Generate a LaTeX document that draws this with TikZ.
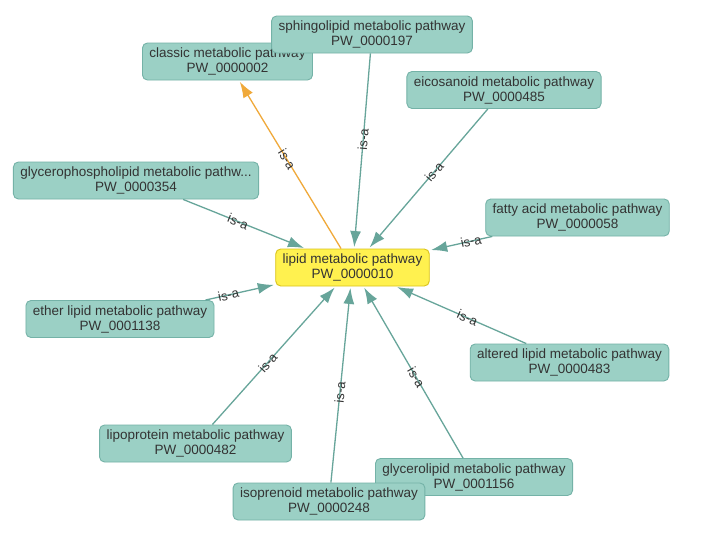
\documentclass[tikz,border=0pt]{standalone}
\usepackage{fontspec}
\setmainfont{Liberation Sans}
\usetikzlibrary{arrows.meta}
\definecolor{boxfill}{HTML}{9BD0C5}
\definecolor{boxline}{HTML}{74B2A7}
\definecolor{edgecol}{HTML}{67A59A}
\definecolor{yelfill}{HTML}{FFF14F}
\definecolor{yelline}{HTML}{D9C21A}
\definecolor{orangecol}{HTML}{F0A93A}
\definecolor{txt}{HTML}{333333}
\tikzset{
  pw/.style={draw=boxline, fill=boxfill, line width=0.9pt, rounded corners=5pt,
    align=center, text=txt, font=\fontsize{13.5}{15}\selectfont,
    minimum height=37pt, inner xsep=7pt, inner ysep=2pt},
  center/.style={pw, draw=yelline, fill=yelfill},
  isa/.style={draw=edgecol, line width=1.3pt, -{Latex[length=16pt,width=11pt]}, shorten >=1.5pt},
  isaor/.style={draw=orangecol, line width=1.3pt, -{Latex[length=16pt,width=11pt]}, shorten >=1.5pt},
  lab/.style={sloped, text=txt, font=\fontsize{13}{13}\selectfont, inner sep=1pt}
}
\begin{document}
\begin{tikzpicture}[x=1pt,y=-1pt]
\useasboundingbox (0,0) rectangle (705,541);
\fill[white] (0,0) rectangle (705,541);
% nodes
\node[pw] (classic) at (227.5,61.5) {classic metabolic pathway\\PW\_0000002};
\node[pw] (sphingo) at (372,34.5) {sphingolipid metabolic pathway\\PW\_0000197};
\node[pw] (eico) at (504,90) {eicosanoid metabolic pathway\\PW\_0000485};
\node[pw] (glyph) at (136,180.5) {glycerophospholipid metabolic pathw...\\PW\_0000354};
\node[pw] (fatty) at (577.5,217.5) {fatty acid metabolic pathway\\PW\_0000058};
\node[center] (lipid) at (352.5,267.5) {lipid metabolic pathway\\PW\_0000010};
\node[pw] (ether) at (120,319) {ether lipid metabolic pathway\\PW\_0001138};
\node[pw] (altered) at (569.5,362.5) {altered lipid metabolic pathway\\PW\_0000483};
\node[pw] (lipo) at (195.5,443.5) {lipoprotein metabolic pathway\\PW\_0000482};
\node[pw] (glycero) at (474,477) {glycerolipid metabolic pathway\\PW\_0001156};
\node[pw] (iso) at (329,501.5) {isoprenoid metabolic pathway\\PW\_0000248};
% edges
\draw[isa] (glyph) -- node[lab, pos=0.45] {is-a} (lipid);
\draw[isa] (sphingo) -- node[lab, pos=0.44] {is-a} (lipid);
\draw[isa] (eico) -- node[lab, pos=0.45] {is-a} (lipid);
\draw[isa] (fatty) -- node[lab, pos=0.34] {is-a} (lipid);
\draw[isa] (ether) -- node[lab, pos=0.33] {is-a} (lipid);
\draw[isa] (altered) -- node[lab, pos=0.45] {is-a} (lipid);
\draw[isa] (lipo) -- node[lab, pos=0.45] {is-a} (lipid);
\draw[isa] (iso) -- node[lab, pos=0.46] {is-a} (lipid);
\draw[isa] (glycero) -- node[lab, pos=0.47] {is-a} (lipid);
\draw[isaor] (lipid) -- node[lab, pos=0.53] {is-a} (classic);
\end{tikzpicture}
\end{document}
